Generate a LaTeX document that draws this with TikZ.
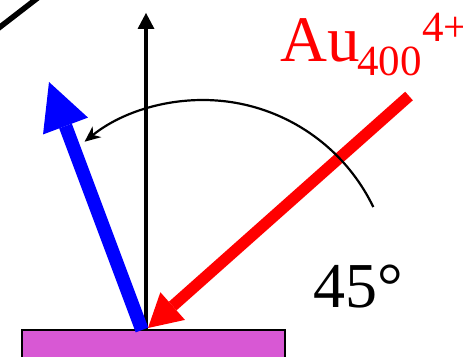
\documentclass[tikz,border=0pt]{standalone}
\usepackage{fontspec}
\setmainfont{Liberation Serif}
\usetikzlibrary{arrows.meta}
\definecolor{surf}{RGB}{216,88,212}
\tikzset{
  lbl/.style={anchor=base west, inner sep=0pt},
  big/.style={font=\fontsize{65}{70}\selectfont},
  small/.style={font=\fontsize{43}{46}\selectfont},
}
\begin{document}
\begin{tikzpicture}[x=1pt,y=1pt]
\useasboundingbox (0,0) rectangle (463,356);
\clip (0,0) rectangle (463,356);
\coordinate (O) at (146,26);
\coordinate (Vtop) at (146,343);
\coordinate (Btail) at (142,26);
\coordinate (Btip) at (49,274);
\coordinate (Rtail) at (409,260);
\coordinate (Rtip) at (148,28);
\coordinate (C) at (203,67);
\coordinate (L1) at (-5,325.1);
\coordinate (L2) at (42,361.4);
\draw[line width=1.8pt, fill=surf] (22,26) rectangle (285,-10);
\draw[line width=5.5pt] (L1) -- (L2);
\draw[line width=3.3pt, -{Triangle[length=16pt,width=17pt,line width=0pt]}] (O) -- (Vtop);
\draw[blue, line width=13.5pt, -{Triangle[length=47pt,width=48pt,line width=0pt]}] (Btail) -- (Btip);
\draw[red, line width=11.5pt, -{Triangle[length=33pt,width=37pt,line width=0pt]}] (Rtail) -- (Rtip);
\draw[line width=2.2pt, -{Stealth[length=16pt,width=14pt,line width=0pt]}] (C) ++(25.7:189) arc[start angle=25.7, end angle=128.8, radius=189];
\node[lbl, big, red] (au) at (280,294) {Au};
\node[lbl, small, red] (sub) at (357,280) {400};
\node[lbl, small, red] (sup) at (422,314) {4+};
\node[lbl, font=\fontsize{64}{68}\selectfont] (ang) at (313,48) {45°};
\end{tikzpicture}
\end{document}
